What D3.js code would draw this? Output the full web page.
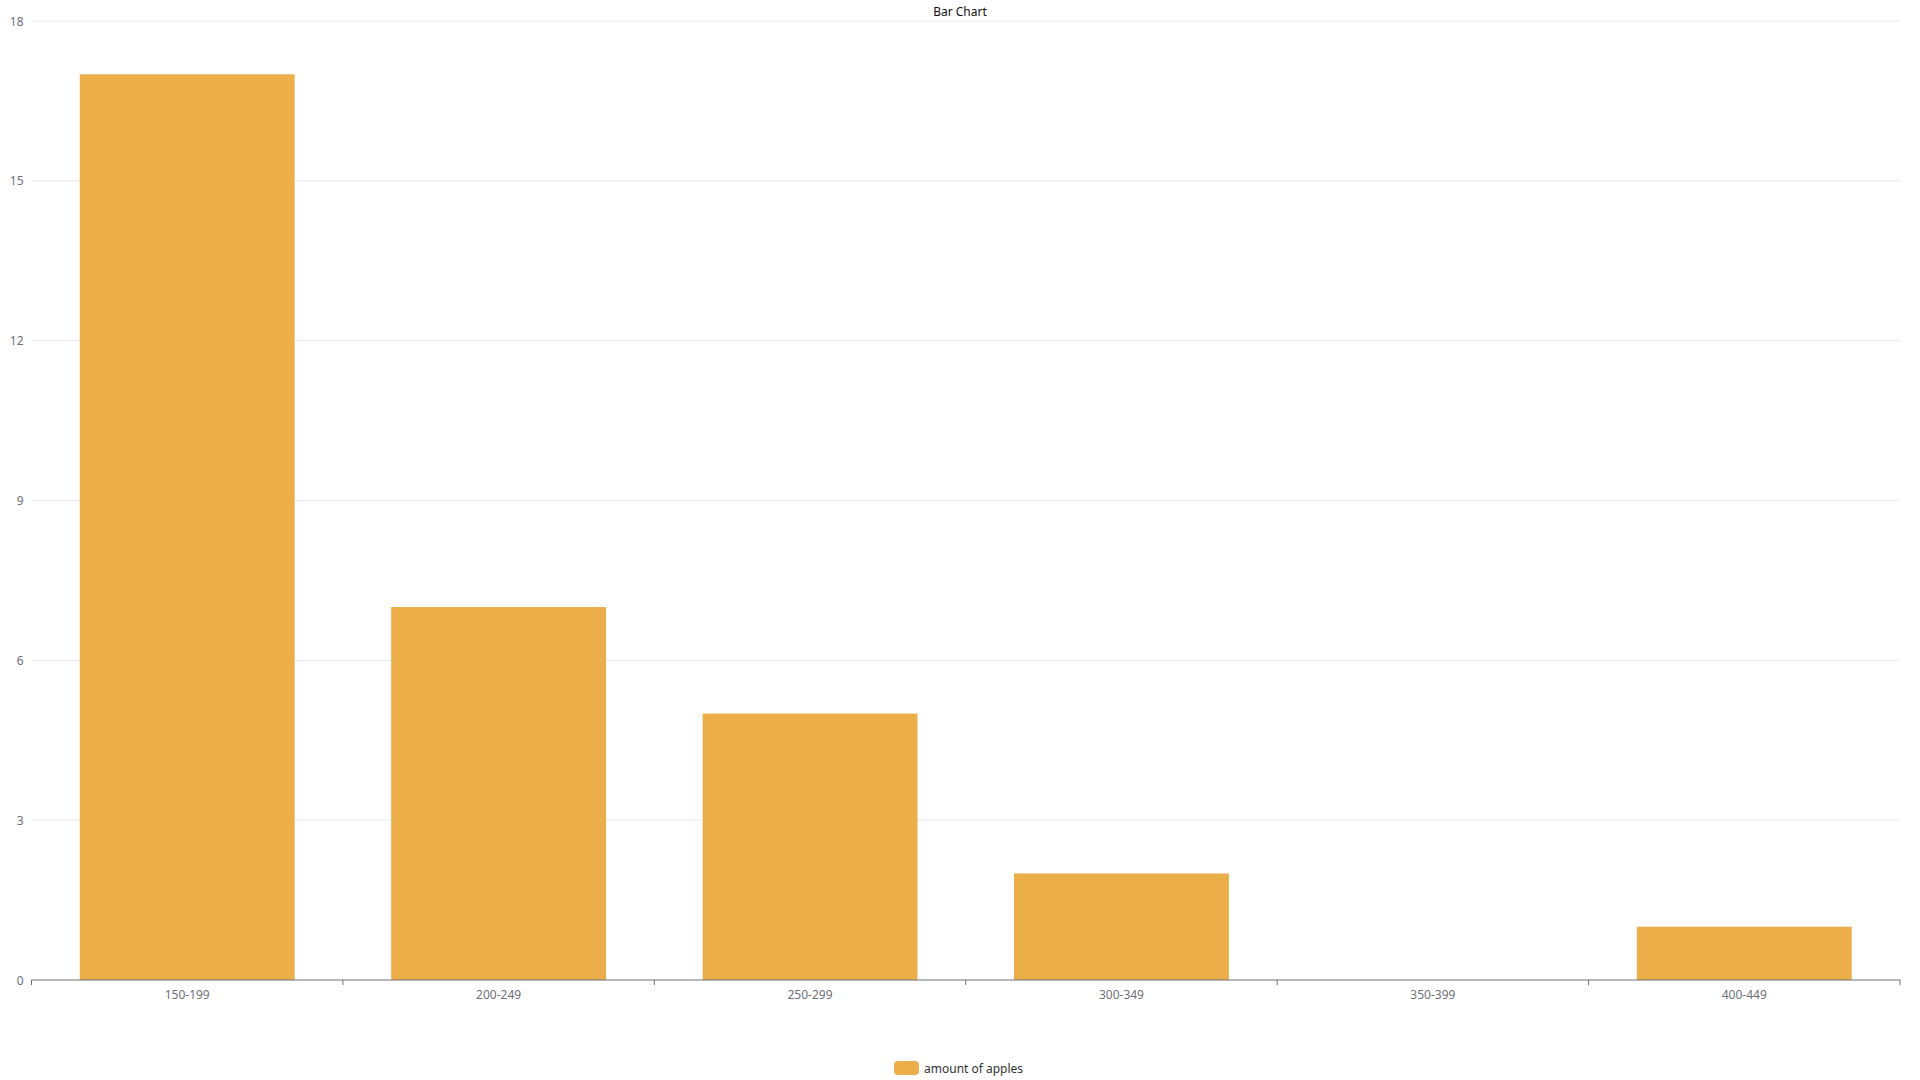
<!DOCTYPE html>
<html>
<head>
<meta charset="utf-8">
<script src="https://cdn.jsdelivr.net/npm/d3@7"></script>
<style>
  body { margin: 0; background: #fff; }
  text { font-family: "Noto Sans", "Open Sans", sans-serif; }
</style>
</head>
<body>
<div class="chart"></div>
<script>
const categories = ["150-199", "200-249", "250-299", "300-349", "350-399", "400-449"]
const apples = [17, 7, 5, 2, 0, 1]
const yTicks = [0, 3, 6, 9, 12, 15, 18]
const seriesName = "amount of apples"
const titleText = "Bar Chart"

const width = 1920, height = 1080
const margin = {left: 31.5, right: 20, top: 21, bottom: 100}
const barColor = "#ebae49"

const svg = d3.select(".chart").append("svg")
  .attr("width", width)
  .attr("height", height)

const xs = d3.scaleBand().domain(categories).range([margin.left, width - margin.right]).padding(0)
const ys = d3.scaleLinear().domain([0, 18]).range([height - margin.bottom, margin.top])

// gridlines
svg.append("g").selectAll("line").data(yTicks.filter(d => d > 0)).join("line")
  .attr("x1", margin.left).attr("x2", width - margin.right)
  .attr("y1", d => ys(d)).attr("y2", d => ys(d))
  .attr("stroke", "#e6e9ef").attr("stroke-width", 1)

// y labels
svg.append("g").selectAll("text").data(yTicks).join("text")
  .attr("x", margin.left - 8)
  .attr("y", d => ys(d))
  .attr("text-anchor", "end")
  .attr("dominant-baseline", "central")
  .attr("fill", "#6e7079")
  .attr("font-size", 12)
  .text(d => d)

// bars
const bw = xs.bandwidth() * 0.69
svg.append("g").selectAll("rect").data(apples).join("rect")
  .attr("x", (d, i) => xs(categories[i]) + (xs.bandwidth() - bw) / 2)
  .attr("y", d => ys(d))
  .attr("width", bw)
  .attr("height", d => ys(0) - ys(d))
  .attr("fill", barColor)

// x axis
const xAxis = svg.append("g")
  .attr("transform", `translate(0,${ys(0)})`)
xAxis.append("line")
  .attr("x1", margin.left).attr("x2", width - margin.right)
  .attr("stroke", "#6e7079")
const bounds = categories.map(c => xs(c)).concat([xs.range()[1]])
xAxis.selectAll(".tick").data(bounds).join("line")
  .attr("class", "tick")
  .attr("x1", d => d).attr("x2", d => d)
  .attr("y1", 0).attr("y2", 5)
  .attr("stroke", "#6e7079")
xAxis.selectAll(".lbl").data(categories).join("text")
  .attr("class", "lbl")
  .attr("x", d => xs(d) + xs.bandwidth() / 2)
  .attr("y", 14)
  .attr("text-anchor", "middle")
  .attr("dominant-baseline", "central")
  .attr("fill", "#6e7079")
  .attr("font-size", 12)
  .text(d => d)

// title
svg.append("text")
  .attr("x", width / 2 + 0)
  .attr("y", 11)
  .attr("text-anchor", "middle")
  .attr("dominant-baseline", "central")
  .attr("fill", "#111")
  .attr("font-size", 12)
  .text(titleText)

// legend
const legend = svg.append("g").attr("transform", "translate(894,1061)")
legend.append("rect")
  .attr("width", 25).attr("height", 14).attr("rx", 4)
  .attr("fill", barColor)
legend.append("text")
  .attr("x", 30).attr("y", 7)
  .attr("dominant-baseline", "central")
  .attr("fill", "#333")
  .attr("font-size", 12)
  .text(seriesName)
</script>
</body>
</html>
